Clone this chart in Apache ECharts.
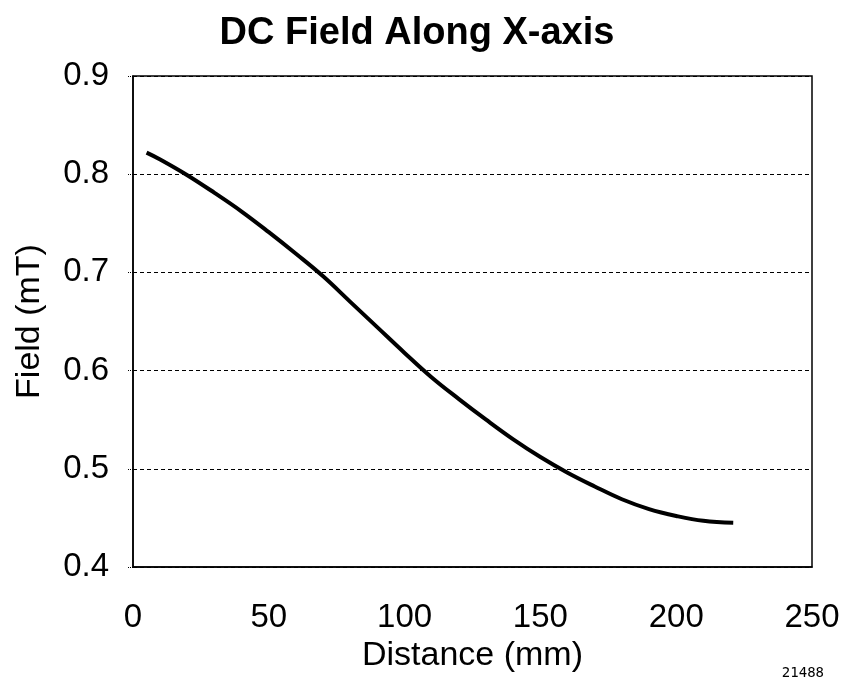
<!DOCTYPE html>
<html>
<head>
<meta charset="utf-8">
<script src="https://cdn.jsdelivr.net/npm/echarts@6/dist/echarts.min.js"></script>
<style>
  html, body { margin: 0; padding: 0; background: #fff; }
  #chart { width: 841px; height: 689px; }
</style>
</head>
<body>
<div id="chart"></div>
<script>
// distance along x-axis (mm) and measured field (mT)
const distance = [5, 10, 20, 30, 40, 50, 60, 70, 80, 90, 100, 110, 120, 130, 140, 150, 160, 170, 180, 190, 200, 210, 221];
const field = [0.822, 0.815, 0.799, 0.781, 0.762, 0.741, 0.719, 0.696, 0.670, 0.644, 0.618, 0.593, 0.571, 0.550, 0.530, 0.512, 0.496, 0.482, 0.469, 0.459, 0.452, 0.447, 0.445];
const xTicks = [0, 50, 100, 150, 200, 250];
const yTicks = [0.4, 0.5, 0.6, 0.7, 0.8, 0.9];

const font = "'Liberation Sans', Arial, sans-serif";
const chart = echarts.init(document.getElementById('chart'));

chart.setOption({
  animation: false,
  backgroundColor: '#fff',
  title: [{
    text: 'DC Field Along X-axis',
    left: 412,
    textAlign: 'center',
    top: 10,
    textStyle: { fontFamily: font, fontWeight: 'bold', fontSize: 38, color: '#000' }
  }, {
    text: '21488',
    right: 12,
    bottom: 4,
    textStyle: { fontFamily: "'DejaVu Sans Mono', monospace", fontWeight: 'normal', fontSize: 14, color: '#000' }
  }],
  grid: {
    left: 133, right: 29, top: 76, bottom: 122,
    outerBoundsMode: 'none', containLabel: false,
    show: true, borderColor: '#000', borderWidth: 1.5, backgroundColor: '#fff'
  },
  xAxis: {
    type: 'value',
    min: xTicks[0],
    max: xTicks[xTicks.length - 1],
    interval: 50,
    name: 'Distance (mm)',
    nameLocation: 'middle',
    nameGap: 68,
    nameTextStyle: { fontFamily: font, fontSize: 34, color: '#000' },
    axisLine: { show: true, lineStyle: { color: '#000', width: 1.5 } },
    axisTick: { show: false },
    splitLine: { show: false },
    axisLabel: { fontFamily: font, fontSize: 33, color: '#000', margin: 34 }
  },
  yAxis: {
    type: 'value',
    min: yTicks[0],
    max: yTicks[yTicks.length - 1],
    interval: 0.1,
    name: 'Field (mT)',
    nameLocation: 'middle',
    nameGap: 86,
    nameTextStyle: { fontFamily: font, fontSize: 34, color: '#000' },
    axisLine: { show: true, lineStyle: { color: '#000', width: 1.5 } },
    axisTick: { show: true, length: 5, lineStyle: { color: '#000', type: 'dotted' } },
    splitLine: { show: true, lineStyle: { color: '#000', type: [4, 3], width: 1 } },
    axisLabel: {
      fontFamily: font, fontSize: 33, color: '#000', margin: 24,
      formatter: v => v.toFixed(1)
    }
  },
  series: [{
    type: 'line',
    data: distance.map((d, i) => [d, field[i]]),
    smooth: 0.4,
    showSymbol: false,
    lineStyle: { color: '#000', width: 4 },
    z: 5
  }]
});
</script>
</body>
</html>
